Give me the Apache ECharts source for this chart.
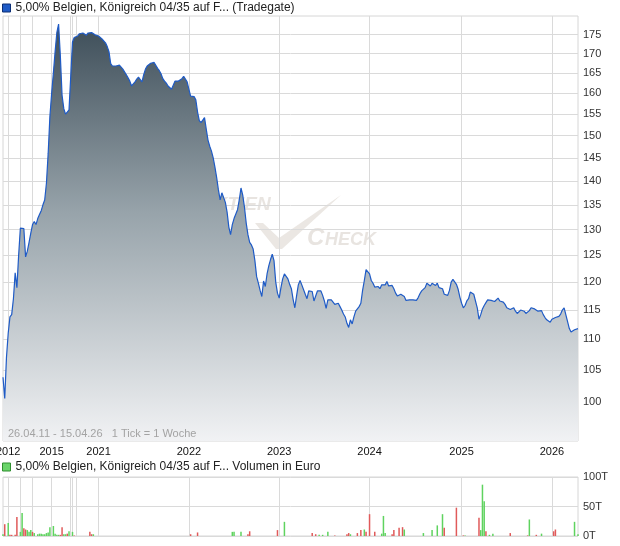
<!DOCTYPE html>
<html>
<head>
<meta charset="utf-8">
<script src="https://cdn.jsdelivr.net/npm/echarts@6/dist/echarts.min.js"></script>
<style>html,body{margin:0;padding:0;background:#fff}</style>
</head>
<body>
<div id="chart" style="width:620px;height:546px"></div>
<script>
// weeks with trades before 2021 (sparse), then one tick per week
var earlyWeeks = [
  '2011-04-26', '2011-08-15', '2011-11-21',
  '2012-01-16', '2012-03-05', '2012-05-14', '2012-07-02', '2012-08-27', '2012-10-15', '2012-12-03',
  '2013-01-21', '2013-03-11', '2013-05-06', '2013-06-24', '2013-08-19', '2013-10-07', '2013-11-25',
  '2014-01-13', '2014-02-10', '2014-03-17', '2014-04-14', '2014-05-19', '2014-06-16', '2014-07-21',
  '2014-08-18', '2014-09-22', '2014-10-27', '2014-12-01',
  '2015-01-12', '2015-02-09', '2015-03-09', '2015-04-13', '2015-05-11', '2015-06-15', '2015-07-13',
  '2015-08-17', '2015-09-14', '2015-10-19', '2015-11-23',
  '2016-06-13',
  '2017-03-13', '2017-09-18',
  '2020-01-13', '2020-02-10', '2020-03-16', '2020-04-20', '2020-05-18', '2020-06-15', '2020-07-13',
  '2020-08-10', '2020-09-07', '2020-10-05', '2020-11-02', '2020-11-30', '2020-12-21'
]
var weeklyFrom = '2021-01-04'
var weeklyCount = 277

var price = [
  103.8, 100.5, 107, 111, 113.8, 114.2, 117, 121.7, 119, 125,
  130.3, 130, 130.2, 124.7, 125.8, 127.5, 129.3, 131, 131.6, 131,
  132.2, 133, 133.8, 135, 136, 139.5, 146, 154.5, 160, 165,
  170.5, 175.5, 177.8, 169.5, 159.5, 156.3, 155, 155.5, 156, 156.2,
  173, 174.2, 174.5, 174.6, 175.2, 174.8, 175.4, 175, 174.8, 175.4,
  175, 175.5, 175.6, 174.9, 174.5, 174.6, 174.3, 173.8, 173.4, 172.8,
  171.8, 170.5, 167.4, 166.8, 166.5, 166.8, 166.3, 167, 166.6, 166,
  165.5, 164.6, 163.8, 163, 161.8, 162.2, 162.8, 163.5, 164, 163.4,
  162.8, 164.6, 166, 166.8, 167.3, 167.5, 167.6, 167.7, 168, 166.2,
  165.6, 164.8, 163.6, 163, 162.5, 161.8, 161.4, 161, 160.8, 163,
  163.3, 163, 163.3, 163.6, 164.2, 164, 162.8, 161, 159.3, 159,
  159.2, 158.4, 155.5, 153.5, 153, 152.7, 154.2, 151.5, 149, 147.6,
  146.5, 145, 143, 140.7, 138.1, 136, 137.5, 137.4, 135.5, 133.5,
  130.5, 129, 131, 132.2, 132.5, 134, 136, 138.5, 137, 134.5,
  131.3, 129, 127.5, 127, 126.2, 124, 121, 119.8, 118.5, 117.4,
  120.2, 119.2, 121.5, 123, 124.2, 125.2, 124, 120, 118, 117.1,
  119, 120.6, 121.5, 121.3, 120.6, 119.6, 118.8, 116.9, 115.4, 117.5,
  119.5, 120.3, 119.5, 119.8, 117.8, 117, 118.4, 118.5, 118.3, 116.6,
  117.5, 118.4, 118.1, 118.4, 117.6, 116.6, 115.3, 116.8, 117, 116.8,
  116.4, 116, 116, 116.2, 115.6, 115, 114.3, 113.8, 112.7, 112,
  113.3, 112.6, 113.8, 114.8, 115, 115.6, 116.2, 118.5, 120.3, 122.3,
  122.5, 121.5, 120.3, 119.8, 119.1, 119.2, 119.2, 118.8, 119.5, 119.3,
  119.5, 120.1, 119.3, 119.2, 119.4, 118.8, 118, 117.5, 117.8, 117.8,
  117.7, 117.4, 116.7, 116.5, 116.8, 117, 116.8, 116.5, 116.7, 117.2,
  117.9, 118.4, 118.6, 119, 119.8, 119.6, 119.3, 119.8, 119.7, 119.4,
  119.8, 119, 119, 118.8, 117.8, 117.5, 117.6, 118.5, 120, 120.5,
  120.5, 119.6, 118.7, 117.3, 116.2, 115.4, 115.8, 116.6, 117, 118.2,
  118.2, 117.8, 117.6, 115.4, 113.4, 114.2, 115.2, 115.8, 116.3, 116.8,
  117.1, 116.7, 116.5, 116.5, 116.6, 117.1, 116.6, 116.5, 116.4, 116,
  115.4, 115.2, 115.1, 115.2, 115.4, 114.8, 114.4, 114.7, 115, 115,
  114.8, 114.4, 114.6, 114.9, 115.4, 115.6, 115.2, 115, 114.8, 114.8,
  114.9, 114.2, 113.7, 113.3, 113.1, 112.9, 113.4, 113.7, 113.7, 113.7,
  113.9, 114.3, 115, 115.4, 115.7, 113, 111.8, 111.2, 110.9, 111.6,
  111.8, 111.8
]

// volume in thousand euro, [week number, volume]
var volUp = [
  [0, 3], [3, 22], [10, 7], [11, 39], [14, 10], [15, 7], [16, 10], [18, 5], [20, 3], [21, 4],
  [22, 4], [23, 3], [24, 3], [25, 5], [26, 6], [27, 15], [29, 17], [30, 4], [31, 2], [32, 2],
  [35, 3], [36, 3], [38, 8], [40, 7], [52, 3], [132, 7], [133, 7], [137, 7], [162, 24], [182, 2],
  [184, 2], [187, 7], [200, 3], [208, 11], [218, 4], [219, 34], [220, 5], [231, 11], [242, 5], [247, 10],
  [250, 18], [253, 37], [266, 1], [275, 10], [276, 87], [277, 59], [280, 2], [282, 4], [303, 28], [310, 4],
  [329, 24], [331, 3]
]
var volDown = [
  [1, 20], [4, 2], [5, 2], [7, 2], [8, 32], [12, 13], [13, 11], [17, 7], [33, 2], [34, 15],
  [37, 4], [41, 1], [50, 7], [51, 3], [108, 3], [112, 6], [141, 3], [142, 8], [158, 10], [178, 5],
  [180, 3], [191, 1], [198, 3], [199, 5], [204, 5], [206, 10], [209, 7], [211, 37], [214, 7], [224, 3],
  [225, 10], [228, 14], [230, 15], [254, 14], [261, 48], [265, 1], [274, 31], [278, 8], [292, 5], [302, 1],
  [307, 2], [317, 8], [318, 11]
]

var priceTicks = [100, 105, 110, 115, 120, 125, 130, 135, 140, 145, 150, 155, 160, 165, 170, 175]
var volTicks = [0, 50, 100]
var yearLabels = ['2012', '2015', '2021', '2022', '2023', '2024', '2025', '2026']

var priceName = '5,00% Belgien, Königreich 04/35 auf F... (Tradegate)'
var volName = '5,00% Belgien, Königreich 04/35 auf F... Volumen in Euro'
var rangeText = '26.04.11 - 15.04.26   1 Tick = 1 Woche'

var weeks = earlyWeeks.slice()
var start = new Date(weeklyFrom + 'T00:00:00Z').getTime()
for (var i = 0; i < weeklyCount; i++) {
  weeks.push(new Date(start + i * 7 * 86400000).toISOString().slice(0, 10))
}
function yearStart(idx) {
  return idx > 0 && weeks[idx].slice(0, 4) !== weeks[idx - 1].slice(0, 4)
}

// the price axis is logarithmic
var logPrice = price.map(function (p) { return Math.log10(p) })
var logTicks = priceTicks.map(function (p) { return Math.log10(p) })

var volData = []
volUp.forEach(function (d) { volData.push({ value: d }) })
volDown.forEach(function (d) { volData.push({ value: d, itemStyle: { color: '#e05a5a' } }) })
volData.sort(function (a, b) { return a.value[0] - b.value[0] })

var gridLine = { lineStyle: { color: '#dadada', width: 1 } }
var font = 'Liberation Sans, Arial, sans-serif'

var myChart = echarts.init(document.getElementById('chart'))
myChart.setOption({
  animation: false,
  textStyle: { fontFamily: font },
  legend: [
    {
      left: 2, top: 2, padding: 0, selectedMode: false,
      icon: 'rect', itemWidth: 8, itemHeight: 8,
      textStyle: { color: '#222', fontSize: 12, fontFamily: font },
      data: [{ name: priceName, itemStyle: { color: '#1f5bc6', borderColor: '#0c2f75', borderWidth: 1 } }]
    },
    {
      left: 2, top: 461, padding: 0, selectedMode: false,
      icon: 'rect', itemWidth: 8, itemHeight: 8,
      textStyle: { color: '#222', fontSize: 12, fontFamily: font },
      data: [{ name: volName, itemStyle: { color: '#6ad46a', borderColor: '#2f8f2f', borderWidth: 1 } }]
    }
  ],
  grid: [
    { left: 3, right: 42, top: 16, height: 425, outerBoundsMode: 'none', show: true, borderColor: '#d6d6d6', borderWidth: 1 },
    { left: 3, right: 42, top: 477, height: 59, outerBoundsMode: 'none', show: true, borderColor: '#d6d6d6', borderWidth: 1 }
  ],
  xAxis: [
    {
      type: 'category', gridIndex: 0, data: weeks, boundaryGap: false,
      axisLine: { show: false }, axisTick: { show: false },
      splitLine: { show: true, interval: function (idx) { return yearStart(idx) }, lineStyle: gridLine.lineStyle },
      axisLabel: {
        color: '#111', fontSize: 11, margin: 5,
        interval: function (idx, value) { return yearStart(idx) && yearLabels.indexOf(value.slice(0, 4)) >= 0 },
        formatter: function (value) { return value.slice(0, 4) }
      }
    },
    {
      type: 'category', gridIndex: 1, data: weeks, boundaryGap: false,
      axisLine: { show: false }, axisTick: { show: false }, axisLabel: { show: false },
      splitLine: { show: true, interval: function (idx) { return yearStart(idx) }, lineStyle: gridLine.lineStyle }
    }
  ],
  yAxis: [
    {
      type: 'value', gridIndex: 0, position: 'right',
      min: Math.log10(94.2), max: Math.log10(180),
      axisLine: { show: false },
      axisTick: { show: false, customValues: logTicks },
      axisLabel: {
        customValues: logTicks, color: '#333', fontSize: 11, margin: 5,
        formatter: function (v) { return Math.round(Math.pow(10, v)) }
      },
      splitLine: gridLine
    },
    {
      type: 'value', gridIndex: 1, position: 'right',
      min: volTicks[0], max: volTicks[volTicks.length - 1], interval: 50,
      axisLine: { show: false }, axisTick: { show: false },
      axisLabel: { color: '#333', fontSize: 11, margin: 5, formatter: function (v) { return v + 'T' } },
      splitLine: gridLine
    }
  ],
  graphic: [
    {
      type: 'text', left: 200, top: 195, z: 0, silent: true,
      style: { text: 'AKTIEN', font: 'italic bold 19px ' + font, fill: 'rgba(205,196,186,0.45)' }
    },
    {
      type: 'polygon', z: 0, silent: true,
      shape: { points: [[255, 223], [263, 223], [279, 238], [341, 195], [282, 249], [276, 249]] },
      style: { fill: 'rgba(205,196,186,0.4)' }
    },
    {
      type: 'text', left: 307, top: 226, z: 0, silent: true,
      style: { text: 'C', font: 'italic bold 24px ' + font, fill: 'rgba(205,196,186,0.45)' }
    },
    {
      type: 'text', left: 325, top: 231, z: 0, silent: true,
      style: { text: 'HECK', font: 'italic bold 18px ' + font, fill: 'rgba(205,196,186,0.45)' }
    },
    {
      type: 'text', left: 8, top: 428, z: 10, silent: true,
      style: { text: rangeText, font: '11px ' + font, fill: '#a3a3a3' }
    }
  ],
  series: [
    {
      name: priceName, type: 'line', xAxisIndex: 0, yAxisIndex: 0,
      data: logPrice, showSymbol: false, symbol: 'none',
      itemStyle: { color: '#1f5bc6' },
      lineStyle: { color: '#1f5bc6', width: 1.2 },
      areaStyle: {
        color: new echarts.graphic.LinearGradient(0, 0, 0, 1, [
          { offset: 0, color: '#3e4e59' },
          { offset: 0.45, color: '#97a3aa' },
          { offset: 1, color: '#f1f2f4' }
        ]),
        opacity: 1
      }
    },
    {
      name: volName, type: 'bar', xAxisIndex: 1, yAxisIndex: 1,
      data: volData, barWidth: 1.5,
      itemStyle: { color: '#5fd35f' }
    }
  ]
})
</script>
</body>
</html>
